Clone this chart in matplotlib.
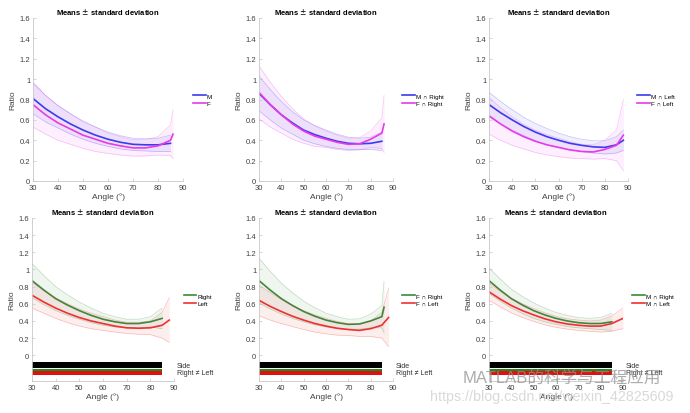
import matplotlib
matplotlib.use('Agg')
import matplotlib.pyplot as plt
import numpy as np

plt.rcParams['font.family'] = ['Liberation Sans', 'Noto Sans CJK SC', 'DejaVu Sans']

# ----------------------- data -----------------------
ang_85 = [30, 35, 40, 45, 50, 55, 60, 65, 70, 75, 80, 85]
ang_86 = ang_85 + [86]
ang_88 = ang_85 + [88]
ang_90 = ang_85 + [90]

# panel 1: M vs F
m_mean = [0.81, 0.71, 0.63, 0.56, 0.50, 0.45, 0.41, 0.38, 0.36, 0.355, 0.355, 0.37]
m_sd = [0.15, 0.13, 0.11, 0.10, 0.09, 0.08, 0.07, 0.065, 0.06, 0.06, 0.065, 0.08]
f_mean = [0.75, 0.65, 0.57, 0.51, 0.45, 0.41, 0.37, 0.345, 0.325, 0.325, 0.345, 0.40, 0.46]
f_sd = [0.22, 0.19, 0.17, 0.15, 0.13, 0.12, 0.10, 0.09, 0.08, 0.08, 0.09, 0.15, 0.24]

# panel 2: M∩Right vs F∩Right
mr_mean = [0.86, 0.75, 0.65, 0.57, 0.50, 0.455, 0.42, 0.39, 0.37, 0.365, 0.37, 0.39]
mr_sd = [0.17, 0.15, 0.13, 0.11, 0.10, 0.09, 0.08, 0.07, 0.06, 0.055, 0.06, 0.09]
fr_mean = [0.87, 0.75, 0.65, 0.56, 0.49, 0.44, 0.41, 0.38, 0.36, 0.365, 0.41, 0.47, 0.56]
fr_sd = [0.26, 0.22, 0.18, 0.15, 0.12, 0.10, 0.08, 0.07, 0.06, 0.06, 0.08, 0.15, 0.28]

# panel 3: M∩Left vs F∩Left
ml_mean = [0.75, 0.67, 0.60, 0.535, 0.48, 0.435, 0.40, 0.37, 0.35, 0.335, 0.33, 0.355, 0.40]
ml_sd = [0.12, 0.11, 0.10, 0.09, 0.085, 0.08, 0.07, 0.065, 0.06, 0.06, 0.065, 0.08, 0.10]
fl_mean = [0.64, 0.56, 0.49, 0.435, 0.39, 0.355, 0.33, 0.305, 0.29, 0.285, 0.31, 0.35, 0.45]
fl_sd = [0.18, 0.16, 0.14, 0.12, 0.11, 0.10, 0.09, 0.08, 0.07, 0.07, 0.09, 0.15, 0.35]

# panel 4: Right vs Left
r_mean = [0.87, 0.76, 0.66, 0.585, 0.52, 0.465, 0.42, 0.39, 0.37, 0.37, 0.39, 0.43]
r_sd = [0.20, 0.17, 0.14, 0.12, 0.10, 0.085, 0.07, 0.06, 0.05, 0.05, 0.06, 0.12]
l_mean = [0.70, 0.62, 0.55, 0.49, 0.44, 0.40, 0.37, 0.34, 0.32, 0.315, 0.32, 0.35, 0.41]
l_sd = [0.15, 0.13, 0.12, 0.11, 0.10, 0.09, 0.08, 0.07, 0.065, 0.07, 0.08, 0.15, 0.26]

# panel 5: F∩Right vs F∩Left
fr2_mean = [0.87, 0.76, 0.66, 0.58, 0.51, 0.455, 0.41, 0.38, 0.36, 0.365, 0.40, 0.45, 0.56]
fr2_sd = [0.26, 0.22, 0.18, 0.15, 0.12, 0.10, 0.08, 0.07, 0.06, 0.06, 0.08, 0.13, 0.30]
fl2_mean = [0.64, 0.57, 0.51, 0.455, 0.41, 0.37, 0.34, 0.315, 0.30, 0.29, 0.31, 0.35, 0.44]
fl2_sd = [0.18, 0.16, 0.14, 0.12, 0.11, 0.10, 0.09, 0.08, 0.07, 0.07, 0.09, 0.15, 0.34]

# panel 6: M∩Right vs M∩Left
mr2_mean = [0.87, 0.76, 0.66, 0.585, 0.52, 0.47, 0.43, 0.40, 0.38, 0.37, 0.37, 0.39]
mr2_sd = [0.15, 0.13, 0.11, 0.10, 0.09, 0.08, 0.07, 0.065, 0.06, 0.06, 0.07, 0.10]
ml2_mean = [0.74, 0.655, 0.58, 0.52, 0.47, 0.425, 0.39, 0.365, 0.35, 0.34, 0.34, 0.37, 0.43]
ml2_sd = [0.10, 0.09, 0.085, 0.08, 0.075, 0.07, 0.065, 0.06, 0.06, 0.06, 0.07, 0.09, 0.12]

# significance bars (start, end angle) for bottom row
bar_start = 30
bar_end = 85

y_ticks = [0, 0.2, 0.4, 0.6, 0.8, 1, 1.2, 1.4, 1.6]
y_tick_labels = ['0', '0.2', '0.4', '0.6', '0.8', '1', '1.2', '1.4', '1.6']
x_ticks = [30, 40, 50, 60, 70, 80, 90]

# ----------------------- fig configuration -----------------------
blue = '#3b3bf0'
magenta = '#e83ae8'
green = '#3a8a3a'
red = '#f03030'
W, H = 690, 414
fig = plt.figure(figsize=(W / 100, H / 100), dpi=100)


def px_axes(left, right, top, bottom):
    return fig.add_axes([left / W, 1 - bottom / H, (right - left) / W, (bottom - top) / H])


def band(ax, x, mean, sd, color, label):
    x = np.array(x)
    mean = np.array(mean)
    sd = np.array(sd)
    ax.fill_between(x, mean - sd, mean + sd, color=color, alpha=0.08, lw=0)
    ax.plot(x, mean + sd, color=color, lw=0.5, alpha=0.3)
    ax.plot(x, mean - sd, color=color, lw=0.5, alpha=0.3)
    ax.plot(x, mean, color=color, lw=1.2, label=label)


def style(ax, bottom_row):
    ax.set_xlim(30, 90)
    ax.set_ylim(-0.3 if bottom_row else 0, 1.6)
    ax.set_xticks(x_ticks)
    ax.set_yticks(y_ticks)
    ax.set_yticklabels(y_tick_labels)
    for s in ['top', 'right']:
        ax.spines[s].set_visible(False)
    for s in ['left', 'bottom']:
        ax.spines[s].set_color('#c8c8c8')
        ax.spines[s].set_linewidth(0.6)
    ax.tick_params(direction='in', length=2, width=0.5, color='#c8c8c8',
                   labelsize=5.5, labelcolor='#404040', pad=2)
    ax.set_title('Means $\\pm$ standard deviation', fontsize=5.5, fontweight='bold', pad=3)
    ax.set_ylabel('Ratio', fontsize=6, color='#404040', labelpad=2)
    ax.set_xlabel('Angle (°)', fontsize=6, color='#404040', labelpad=1)
    ax.legend(loc='center left', bbox_to_anchor=(1.05, 0.5), frameon=False, fontsize=4.5,
              handlelength=2.0, handletextpad=0.2, labelspacing=0.3, borderaxespad=0)


def sig_bars(ax):
    ax.barh(-0.117, bar_end - bar_start, left=bar_start, height=0.07, color='black')
    ax.barh(-0.168, bar_end - bar_start, left=bar_start, height=0.024, color='#1f8a1f')
    ax.barh(-0.207, bar_end - bar_start, left=bar_start, height=0.045, color='#e01010')
    ax.text(91.3, -0.117, 'Side', fontsize=5, color='#303030', va='center', clip_on=False)
    ax.text(91.3, -0.2, 'Right ≠ Left', fontsize=5, color='#303030', va='center', clip_on=False)


# top row
ax1 = px_axes(33, 183, 19, 182)
band(ax1, ang_85, m_mean, m_sd, blue, 'M')
band(ax1, ang_86, f_mean, f_sd, magenta, 'F')
style(ax1, False)

ax2 = px_axes(259, 393, 19, 182)
band(ax2, ang_85, mr_mean, mr_sd, blue, 'M ∩ Right')
band(ax2, ang_86, fr_mean, fr_sd, magenta, 'F ∩ Right')
style(ax2, False)

ax3 = px_axes(489, 628, 19, 182)
band(ax3, ang_88, ml_mean, ml_sd, blue, 'M ∩ Left')
band(ax3, ang_88, fl_mean, fl_sd, magenta, 'F ∩ Left')
style(ax3, False)

# bottom row
ax4 = px_axes(32, 174, 219, 382)
band(ax4, ang_85, r_mean, r_sd, green, 'Right')
band(ax4, ang_88, l_mean, l_sd, red, 'Left')
style(ax4, True)
sig_bars(ax4)

ax5 = px_axes(259, 393, 219, 382)
band(ax5, ang_86, fr2_mean, fr2_sd, green, 'F ∩ Right')
band(ax5, ang_88, fl2_mean, fl2_sd, red, 'F ∩ Left')
style(ax5, True)
sig_bars(ax5)

ax6 = px_axes(489, 623, 219, 382)
band(ax6, ang_85, mr2_mean, mr2_sd, green, 'M ∩ Right')
band(ax6, ang_90, ml2_mean, ml2_sd, red, 'M ∩ Left')
style(ax6, True)
sig_bars(ax6)

# watermark
fig.text(463 / W, 1 - 378 / H, 'MATLAB的科学与工程应用', fontsize=12, color='#909090',
         alpha=0.75, va='center', ha='left')
fig.text(430 / W, 1 - 397 / H, 'https://blog.csdn.net/weixin_42825609', fontsize=10.3,
         color='#d0d0d0', alpha=0.8, va='center', ha='left')

plt.savefig('out.png', dpi=100)
